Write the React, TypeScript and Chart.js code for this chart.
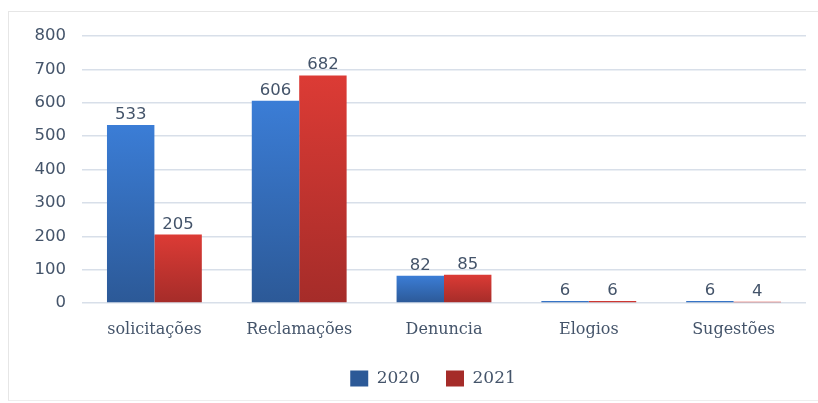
import React, { useEffect, useRef } from "react";
import { Chart, registerables } from "chart.js";

Chart.register(...registerables);

const categories = ["solicitações", "Reclamações", "Denuncia", "Elogios", "Sugestões"];
const values2020 = [533, 606, 82, 6, 6];
const values2021 = [205, 682, 85, 6, 4];
const seriesLabels = ["2020", "2021"];
const yMax = 800;
const yStep = 100;

const TEXT = "#44546A";

function gradientFill(top: string, bottom: string, solid: string) {
  return (ctx: any) => {
    const chart = ctx.chart;
    if (ctx.type !== "data" || !chart.chartArea || !chart.scales.y) return solid;
    const y = chart.scales.y;
    const y0 = y.getPixelForValue(0);
    const y1 = y.getPixelForValue(ctx.raw);
    if (Math.abs(y0 - y1) < 1) return solid;
    const g = chart.ctx.createLinearGradient(0, y1, 0, y0);
    g.addColorStop(0, top);
    g.addColorStop(1, bottom);
    return g;
  };
}

const dataLabelPlugin = {
  id: "dataLabels",
  afterDatasetsDraw(chart: any) {
    const ctx = chart.ctx;
    ctx.save();
    ctx.font = "16.5px 'DejaVu Sans'";
    ctx.fillStyle = TEXT;
    ctx.textAlign = "center";
    ctx.textBaseline = "bottom";
    chart.data.datasets.forEach((ds: any, i: number) => {
      const meta = chart.getDatasetMeta(i);
      meta.data.forEach((el: any, j: number) => {
        ctx.fillText(String(ds.data[j]), el.x, el.y - 2);
      });
    });
    ctx.restore();
  },
};

const legendShiftPlugin = {
  id: "legendShift",
  afterLayout(chart: any) {
    const lg = chart.legend;
    if (lg) {
      lg.left += 26;
      lg.right += 26;
    }
  },
};

export default function App() {
  const ref = useRef<HTMLCanvasElement | null>(null);

  useEffect(() => {
    if (!ref.current) return;
    const chart = new Chart(ref.current, {
      type: "bar",
      data: {
        labels: categories,
        datasets: [
          {
            label: seriesLabels[0],
            data: values2020,
            backgroundColor: gradientFill("#3b7dd6", "#2c5997", "#3469b8"),
            categoryPercentage: 0.655,
            barPercentage: 1,
          },
          {
            label: seriesLabels[1],
            data: values2021,
            backgroundColor: gradientFill("#dc3b35", "#a52c29", "#c4332f"),
            categoryPercentage: 0.655,
            barPercentage: 1,
          },
        ],
      },
      options: {
        responsive: false,
        animation: false,
        layout: { padding: { left: 8, right: 12, top: 36, bottom: 6 } },
        scales: {
          x: {
            grid: { display: false, drawTicks: false },
            border: { display: false },
            ticks: {
              color: TEXT,
              font: { family: "'DejaVu Serif'", size: 16 },
              padding: 17,
            },
            afterFit: (s: any) => {
              s.height = 41;
            },
          },
          y: {
            min: 0,
            max: yMax,
            grid: { color: "#d8dfe9", lineWidth: 1.5, drawTicks: false },
            border: { display: false },
            ticks: {
              stepSize: yStep,
              color: TEXT,
              font: { family: "'DejaVu Sans'", size: 16.5 },
              padding: 16,
            },
            afterFit: (s: any) => {
              s.width = 74;
            },
          },
        },
        plugins: {
          legend: {
            position: "bottom",
            labels: {
              color: TEXT,
              font: { family: "'DejaVu Serif'", size: 17 },
              boxWidth: 18,
              boxHeight: 16,
              padding: 26,
            },
          },
          tooltip: { enabled: false },
        },
      },
      plugins: [dataLabelPlugin, legendShiftPlugin],
    });
    return () => chart.destroy();
  }, []);

  return (
    <div style={{ position: "absolute", left: 0, top: 0, width: 818, height: 403, background: "#fff" }}>
      <div
        style={{
          position: "absolute",
          left: 8,
          top: 11,
          width: 810,
          height: 388,
          borderTop: "1px solid #e6e6e6",
          borderLeft: "1px solid #e6e6e6",
          borderBottom: "1px solid #eeeeee",
        }}
      />
      <canvas ref={ref} width={818} height={403} style={{ position: "absolute", left: 0, top: 0 }} />
    </div>
  );
}
